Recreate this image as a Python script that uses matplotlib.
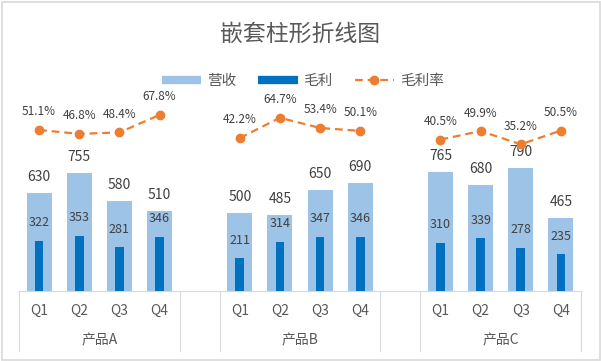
import numpy as np
import matplotlib
matplotlib.use('Agg')
import matplotlib.pyplot as plt
from matplotlib.lines import Line2D
from matplotlib.patches import FancyBboxPatch

plt.rcParams['font.family'] = ['Noto Sans CJK SC', 'DejaVu Sans']

# data
groups = ['产品A', '产品B', '产品C']
quarters = ['Q1', 'Q2', 'Q3', 'Q4']
revenue = [[630, 755, 580, 510], [500, 485, 650, 690], [765, 680, 790, 465]]
profit = [[322, 353, 281, 346], [211, 314, 347, 346], [310, 339, 278, 235]]
rate = [[51.1, 46.8, 48.4, 67.8], [42.2, 64.7, 53.4, 50.1], [40.5, 49.9, 35.2, 50.5]]

light = '#9DC3E6'
dark = '#0070C0'
orange = '#ED7D31'
grey = '#595959'
lab = '#404040'

W, H = 601, 361
fig = plt.figure(figsize=(W / 100, H / 100), dpi=100)
ax = fig.add_axes([19 / W, (H - 291) / H, (581 - 19) / W, (291 - 95) / H])
ax2 = ax.twinx()

ax.set_xlim(-0.5, 13.5)
ax.set_ylim(0, 196 / 0.156)
ax2.set_ylim(-115 / 0.9, (196 - 115) / 0.9)

for g in range(len(groups)):
    x = np.arange(4) + g * 5
    ax.bar(x, revenue[g], width=0.62, color=light, zorder=2)
    ax.bar(x, profit[g], width=0.22, color=dark, zorder=3)
    ax2.plot(x, rate[g], color=orange, lw=1.6, ls=(0, (3.5, 2.2)),
             marker='o', ms=6, zorder=4)
    for i in range(4):
        ax.annotate(str(revenue[g][i]), (x[i], revenue[g][i]), xytext=(0, 11.5),
                    textcoords='offset points', ha='center', va='center',
                    fontsize=10, color=lab)
        ax.annotate(str(profit[g][i]), (x[i], profit[g][i]), xytext=(0, 13),
                    textcoords='offset points', ha='center', va='center',
                    fontsize=9, color=lab)
        ax2.annotate('%.1f%%' % rate[g][i], (x[i], rate[g][i]), xytext=(0, 13),
                     textcoords='offset points', ha='center', va='center',
                     fontsize=8.5, color=lab)

for a in (ax, ax2):
    for s in a.spines.values():
        s.set_visible(False)
    a.set_xticks([])
    a.set_yticks([])

ax.spines['bottom'].set_visible(True)
ax.spines['bottom'].set_color('#D9D9D9')

# two level category axis
tr = ax.get_xaxis_transform()
for g in range(len(groups)):
    x0 = g * 5
    for i, q in enumerate(quarters):
        ax.text(x0 + i, -20 / 196, q, transform=tr, ha='center', va='center',
                fontsize=10, color=grey)
    ax.text(x0 + 1.5, -49 / 196, groups[g], transform=tr, ha='center',
            va='center', fontsize=10, color=grey)
    for xb in (x0 - 0.5, x0 + 3.5):
        ax.plot([xb, xb], [0, -60 / 196], transform=tr, color='#D9D9D9',
                lw=0.8, clip_on=False)

fig.text(0.5, 1 - 34 / H, '嵌套柱形折线图', ha='center', va='center',
         fontsize=16.5, color=grey)

handles = [
    Line2D([], [], color=light, lw=6, solid_capstyle='butt'),
    Line2D([], [], color=dark, lw=6, solid_capstyle='butt'),
    Line2D([], [], color=orange, lw=1.6, ls=(0, (3.5, 2.2)), marker='o', ms=6),
]
fig.legend(handles, ['营收', '毛利', '毛利率'], loc='center',
           bbox_to_anchor=(0.504, 1 - 81 / H), ncol=3, frameon=False,
           fontsize=10.5, labelcolor=grey, handlelength=2.7,
           handletextpad=0.4, columnspacing=1.5)

fig.patches.append(FancyBboxPatch((1.5 / W, 1.5 / H), 1 - 3 / W, 1 - 3 / H,
                                  boxstyle='square,pad=0', transform=fig.transFigure,
                                  fill=False, ec='#D9D9D9', lw=1.2))

fig.savefig('out.png', dpi=100)
